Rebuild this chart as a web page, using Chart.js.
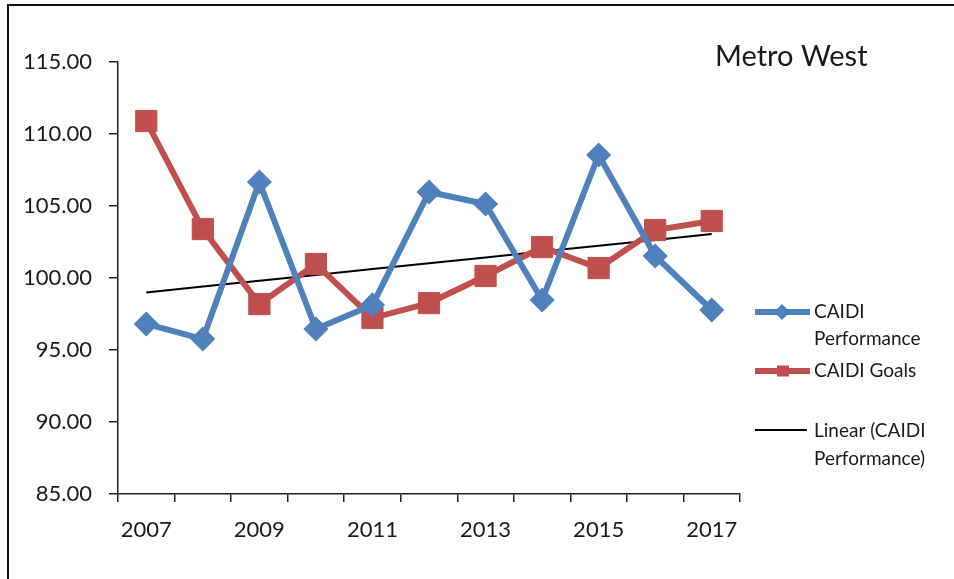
<!DOCTYPE html>
<html>
<head>
<meta charset="utf-8">
<script src="https://cdn.jsdelivr.net/npm/chart.js@4/dist/chart.umd.min.js"></script>
<style>
  html, body { margin: 0; padding: 0; background: #fff; }
  #wrap { width: 954px; height: 579px; position: relative; }
</style>
</head>
<body>
<div id="wrap"><canvas id="c" width="954" height="579"></canvas></div>
<script>
// Years on the category axis
const years = ['2007', '2008', '2009', '2010', '2011', '2012', '2013', '2014', '2015', '2016', '2017'];
// CAIDI performance per year
const caidiPerformance = [96.81, 95.76, 106.67, 96.46, 98.13, 105.97, 105.14, 98.47, 108.54, 101.53, 97.78];
// CAIDI goals per year
const caidiGoals = [110.90, 103.40, 98.19, 100.97, 97.22, 98.26, 100.14, 102.15, 100.69, 103.33, 103.96];
// Value-axis ticks
const yTicks = [85, 90, 95, 100, 105, 110, 115];

const chartTitle = 'Metro West';
const legendNames = [['CAIDI', 'Performance'], ['CAIDI Goals'], ['Linear (CAIDI', 'Performance)']];

const BLUE = '#4F81BD';
const RED = '#C0504D';
const TEXT = '#1a1a1a';
const FONT = 'Lato, "Open Sans", "DejaVu Sans", sans-serif';

// Least-squares linear trend of the performance series
function linearTrend(values) {
  const n = values.length;
  let sx = 0, sy = 0, sxx = 0, sxy = 0;
  values.forEach((v, i) => { sx += i; sy += v; sxx += i * i; sxy += i * v; });
  const slope = (n * sxy - sx * sy) / (n * sxx - sx * sx);
  const icpt = (sy - slope * sx) / n;
  return values.map((_, i) => icpt + slope * i);
}
const trend = linearTrend(caidiPerformance);

// Frame, title and legend drawn directly on the canvas
const decorations = {
  id: 'decorations',
  beforeDraw(chart) {
    const ctx = chart.ctx;
    ctx.save();
    ctx.fillStyle = '#fff';
    ctx.fillRect(0, 0, chart.width, chart.height);
    ctx.strokeStyle = '#111';
    ctx.lineWidth = 2;
    ctx.beginPath();
    ctx.moveTo(954, 5);
    ctx.lineTo(8, 5);
    ctx.lineTo(8, 579);
    ctx.stroke();
    ctx.restore();
  },
  afterDraw(chart) {
    const ctx = chart.ctx;
    ctx.save();
    ctx.fillStyle = TEXT;
    ctx.textBaseline = 'middle';
    ctx.textAlign = 'left';
    ctx.font = '29px ' + FONT;
    ctx.fillText(chartTitle, 715, 57);

    const lx0 = 755, lx1 = 810, tx = 814;
    ctx.lineCap = 'butt';
    // performance entry
    ctx.strokeStyle = BLUE; ctx.fillStyle = BLUE; ctx.lineWidth = 6;
    ctx.beginPath(); ctx.moveTo(lx0, 312); ctx.lineTo(lx1, 312); ctx.stroke();
    ctx.lineJoin = 'round'; ctx.lineWidth = 1.5;
    ctx.beginPath();
    ctx.moveTo(782, 305); ctx.lineTo(789, 312); ctx.lineTo(782, 319); ctx.lineTo(775, 312);
    ctx.closePath(); ctx.fill(); ctx.stroke();
    // goals entry
    ctx.strokeStyle = RED; ctx.fillStyle = RED; ctx.lineWidth = 6;
    ctx.beginPath(); ctx.moveTo(lx0, 371); ctx.lineTo(lx1, 371); ctx.stroke();
    ctx.fillRect(777, 365.5, 12, 11);
    // trend entry
    ctx.strokeStyle = '#000'; ctx.lineWidth = 2;
    ctx.beginPath(); ctx.moveTo(lx0, 430); ctx.lineTo(807, 430); ctx.stroke();

    ctx.fillStyle = TEXT;
    ctx.font = '19px ' + FONT;
    ctx.fillText(legendNames[0][0], tx, 312);
    ctx.fillText(legendNames[0][1], tx, 339);
    ctx.fillText(legendNames[1][0], tx, 371);
    ctx.fillText(legendNames[2][0], tx, 431);
    ctx.fillText(legendNames[2][1], tx, 459);
    ctx.restore();
  }
};

new Chart(document.getElementById('c'), {
  type: 'line',
  data: {
    labels: years,
    datasets: [
      {
        label: legendNames[0].join(' '),
        data: caidiPerformance,
        borderColor: BLUE,
        backgroundColor: BLUE,
        borderWidth: 6,
        tension: 0,
        pointStyle: 'rectRot',
        pointRadius: 11.5,
        pointHoverRadius: 11.5,
        pointBorderWidth: 1.5,
        borderJoinStyle: 'round',
        order: 0
      },
      {
        label: legendNames[1][0],
        data: caidiGoals,
        borderColor: RED,
        backgroundColor: RED,
        borderWidth: 6,
        tension: 0,
        pointStyle: 'rect',
        pointRadius: 15,
        pointHoverRadius: 15,
        pointBorderWidth: 1,
        order: 1
      },
      {
        label: legendNames[2].join(' '),
        data: trend,
        borderColor: '#000',
        borderWidth: 2,
        pointRadius: 0,
        pointHoverRadius: 0,
        tension: 0,
        order: 2
      }
    ]
  },
  options: {
    responsive: false,
    animation: false,
    events: [],
    layout: { padding: { left: 0, right: 214, top: 62, bottom: 0 } },
    plugins: {
      legend: { display: false },
      title: { display: false },
      tooltip: { enabled: false }
    },
    scales: {
      x: {
        type: 'category',
        offset: true,
        grid: {
          offset: true,
          drawOnChartArea: false,
          drawTicks: true,
          tickLength: 8,
          color: '#222',
          lineWidth: 1.5
        },
        border: { display: true, color: '#222', width: 1.5 },
        ticks: {
          autoSkip: false,
          maxRotation: 0,
          minRotation: 0,
          padding: 15,
          color: TEXT,
          font: { family: FONT, size: 22 },
          callback: (v, i) => (i % 2 === 0 ? years[i] : '')
        },
        afterFit: (s) => { s.height = 85; }
      },
      y: {
        min: yTicks[0],
        max: yTicks[yTicks.length - 1],
        afterBuildTicks: (s) => { s.ticks = yTicks.map(v => ({ value: v })); },
        grid: {
          drawOnChartArea: false,
          drawTicks: true,
          tickLength: 9,
          color: '#222',
          lineWidth: 1.5
        },
        border: { display: true, color: '#222', width: 1.5 },
        ticks: {
          padding: 17,
          color: TEXT,
          font: { family: FONT, size: 22 },
          callback: (v) => Number(v).toFixed(2)
        },
        afterFit: (s) => { s.width = 118; }
      }
    }
  },
  plugins: [decorations]
});
</script>
</body>
</html>
